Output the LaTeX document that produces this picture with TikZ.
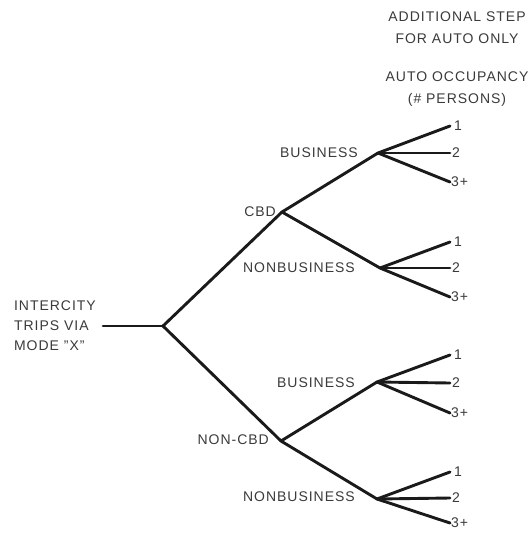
\documentclass[tikz,border=0pt]{standalone}
\usepackage{fontspec}
\setmainfont{Liberation Sans}[LetterSpace=7]
\definecolor{ink}{HTML}{1A1A1A}
\definecolor{txt}{HTML}{3A3A3A}
\begin{document}
\begin{tikzpicture}[x=1pt,y=-1pt,
  branch/.style={draw=ink,line width=2.9pt,line cap=round,line join=round},
  lbl/.style={text=txt,inner sep=0pt,font=\fontsize{14}{22}\selectfont},
  leaflbl/.style={lbl,anchor=west}]
\useasboundingbox (0,0) rectangle (530,533);
% header
\node[lbl,align=center] (hdrA) at (457,28) {ADDITIONAL STEP\\FOR AUTO ONLY};
\node[lbl,align=center] (hdrB) at (457,89) {AUTO OCCUPANCY\\(\# PERSONS)};
% root
\node[lbl,align=left,anchor=east,font=\fontsize{14}{20}\selectfont] (root) at (96,326) {INTERCITY\\TRIPS VIA\\MODE \symbol{34}X\symbol{34}};
\coordinate (rs) at (103,326);
\coordinate (r) at (163,326);
\coordinate (cbd) at (282,212);
\coordinate (ncbd) at (281,441);
\coordinate (cb) at (378,153);
\coordinate (cn) at (380,268);
\coordinate (nb) at (377,382);
\coordinate (nn) at (377,499);
\draw[branch] (rs) -- (r);
\draw[branch] (r) -- (cbd);
\draw[branch] (r) -- (ncbd);
\draw[branch] (cbd) -- (cb);
\draw[branch] (cbd) -- (cn);
\draw[branch] (ncbd) -- (nb);
\draw[branch] (ncbd) -- (nn);
\node[lbl,anchor=east] (lcbd) at (276,212) {CBD};
\node[lbl,anchor=east] (lncbd) at (269,440) {NON-CBD};
\node[lbl,anchor=east] (lcb) at (358,153) {BUSINESS};
\node[lbl,anchor=east] (lcn) at (355,268) {NONBUSINESS};
\node[lbl,anchor=east] (lnb) at (355,383) {BUSINESS};
\node[lbl,anchor=east] (lnn) at (355,497) {NONBUSINESS};
% leaves
\foreach \j/\a/\b/\c in {cb/126/153/182, cn/242/268/297, nb/355/383/413, nn/472/498/523}{
  \coordinate (\j1) at (450,\a);
  \coordinate (\j2) at (450,\b);
  \coordinate (\j3) at (450,\c);
  \draw[branch] (\j) -- (\j1);
  \draw[branch] (\j) -- (\j2);
  \draw[branch] (\j) -- (\j3);
  \node[leaflbl] (\j l1) at (454,\a) {1};
  \node[leaflbl] (\j l2) at (452,\b) {2};
  \node[leaflbl] (\j l3) at (451,\c) {3+};
}
\end{tikzpicture}
\end{document}
